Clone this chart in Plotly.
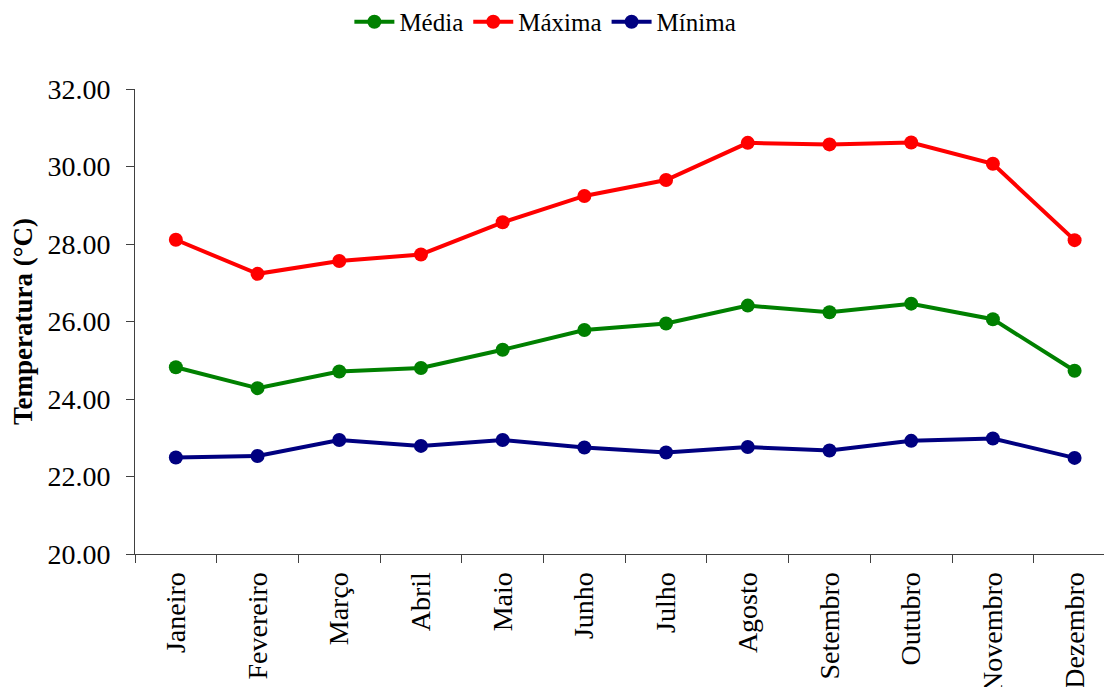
import plotly.graph_objects as go

meses = ["Janeiro", "Fevereiro", "Março", "Abril", "Maio", "Junho",
         "Julho", "Agosto", "Setembro", "Outubro", "Novembro", "Dezembro"]
media = [24.82, 24.28, 24.71, 24.80, 25.27, 25.78, 25.95, 26.41, 26.24, 26.46, 26.06, 24.73]
maxima = [28.11, 27.23, 27.56, 27.73, 28.56, 29.24, 29.65, 30.61, 30.57, 30.62, 30.07, 28.10]
minima = [22.49, 22.53, 22.94, 22.79, 22.94, 22.75, 22.62, 22.76, 22.67, 22.92, 22.98, 22.48]

serif = "Liberation Serif"

fig = go.Figure()
for nome, vals, cor in [("Média", media, "#008000"),
                        ("Máxima", maxima, "#FF0000"),
                        ("Mínima", minima, "#000080")]:
    fig.add_trace(go.Scatter(
        x=meses, y=vals, name=nome, mode="lines+markers",
        line=dict(color=cor, width=4),
        marker=dict(color=cor, size=14),
    ))

fig.update_layout(
    width=1104, height=687,
    margin=dict(l=135, r=0, t=89, b=133),
    paper_bgcolor="white", plot_bgcolor="white",
    font=dict(family=serif, color="black"),
    showlegend=True,
    legend=dict(orientation="h", xref="container", x=0.494, xanchor="center",
                yref="container", y=0.968, yanchor="middle",
                font=dict(size=25, family=serif), itemwidth=40,
                tracegroupgap=0),
)

fig.update_xaxes(
    type="category", range=[-0.5, 11.36], automargin=False,
    showline=True, linecolor="#404040", linewidth=1,
    ticks="outside", tickson="boundaries", ticklen=8, tickcolor="#404040",
    tickangle=-90, tickfont=dict(size=28, family=serif),
    ticklabelstandoff=6,
    showgrid=False, zeroline=False,
)
fig.update_yaxes(
    range=[20, 32], dtick=2, tickformat=".2f", automargin=False,
    showline=True, linecolor="#404040", linewidth=1,
    ticks="outside", ticklen=8, tickcolor="#404040",
    tickfont=dict(size=28, family=serif),
    ticklabelstandoff=10,
    showgrid=False, zeroline=False,
    title=dict(text="<b>Temperatura (°C)</b>", font=dict(size=27, family=serif),
               standoff=6),
)

fig.write_html("out.html")
